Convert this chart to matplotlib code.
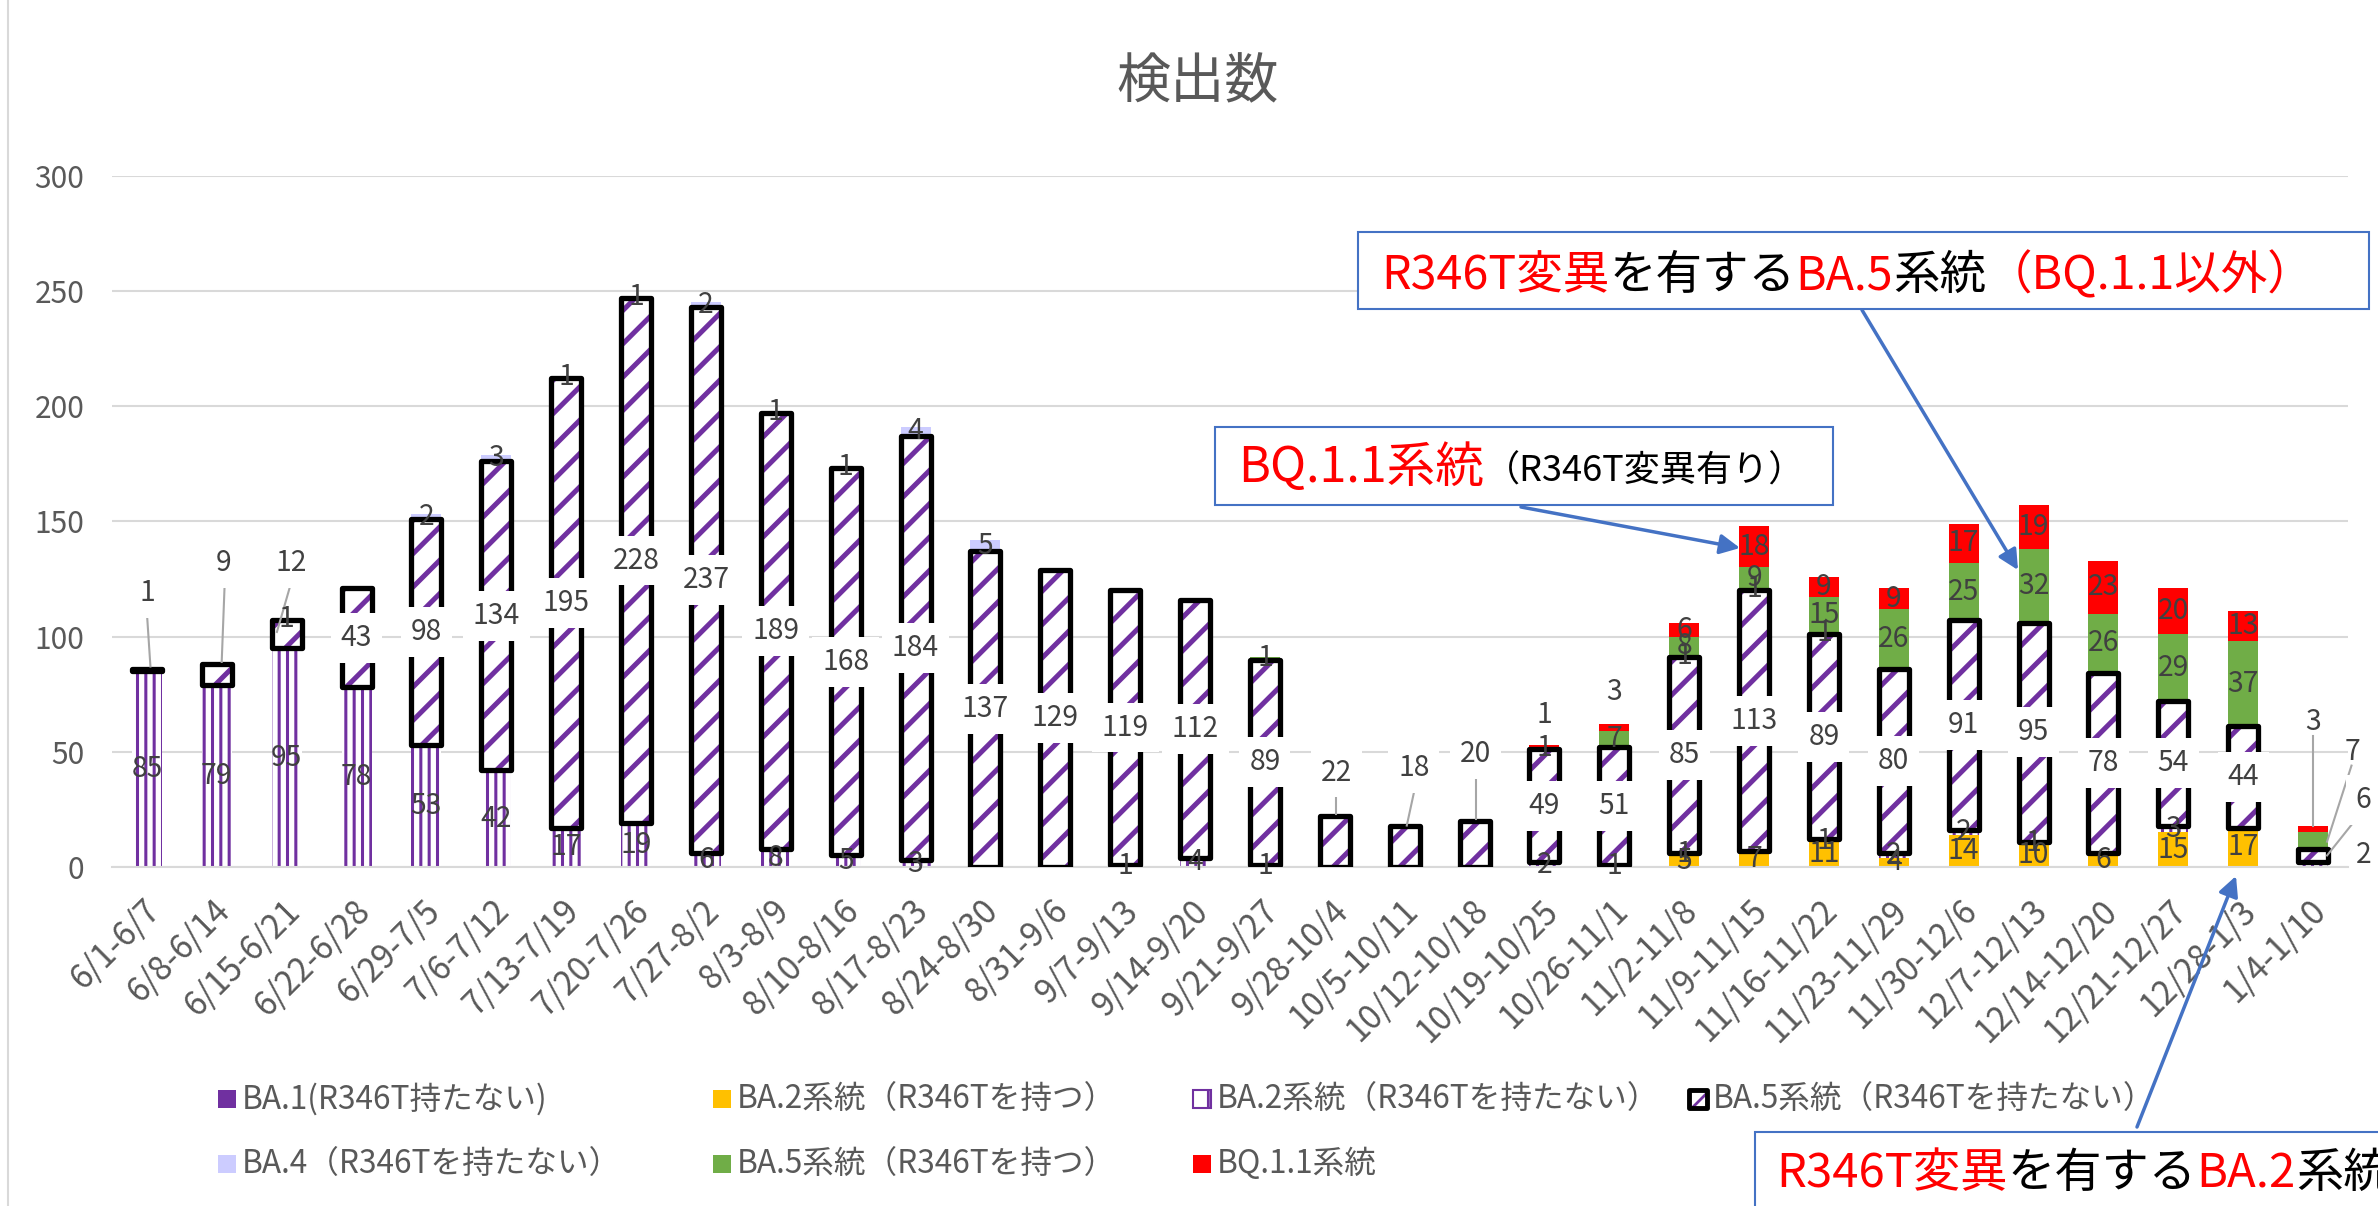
import matplotlib
matplotlib.use('Agg')
import matplotlib.pyplot as plt
import matplotlib.transforms as mtransforms
from matplotlib.patches import Rectangle, FancyArrowPatch
from matplotlib.lines import Line2D
import numpy as np

W, H, DPI = 2378, 1206, 100

plt.rcParams['font.family'] = ['Noto Sans CJK JP', 'DejaVu Sans']
plt.rcParams['hatch.linewidth'] = 2.2

weeks = ['6/1-6/7', '6/8-6/14', '6/15-6/21', '6/22-6/28', '6/29-7/5', '7/6-7/12',
         '7/13-7/19', '7/20-7/26', '7/27-8/2', '8/3-8/9', '8/10-8/16', '8/17-8/23',
         '8/24-8/30', '8/31-9/6', '9/7-9/13', '9/14-9/20', '9/21-9/27', '9/28-10/4',
         '10/5-10/11', '10/12-10/18', '10/19-10/25', '10/26-11/1', '11/2-11/8',
         '11/9-11/15', '11/16-11/22', '11/23-11/29', '11/30-12/6', '12/7-12/13',
         '12/14-12/20', '12/21-12/27', '12/28-1/3', '1/4-1/10']

# counts per week, in stacking order (bottom -> top)
ba1     = [0, 0, 0, 0, 0, 0, 0, 0, 0, 0, 0, 0, 0, 0, 0, 0,
           0, 0, 0, 0, 0, 0, 0, 0, 0, 0, 0, 0, 0, 0, 0, 0]
ba2_r   = [0, 0, 0, 0, 0, 0, 0, 0, 0, 0, 0, 0, 0, 0, 0, 0,
           0, 0, 0, 0, 0, 0, 5, 7, 11, 4, 14, 10, 6, 15, 17, 0]
ba2_nor = [85, 79, 95, 78, 53, 42, 17, 19, 6, 8, 5, 3, 0, 0, 1, 4,
           1, 0, 0, 0, 2, 1, 1, 0, 1, 2, 2, 1, 0, 3, 0, 2]
ba5_nor = [1, 9, 12, 43, 98, 134, 195, 228, 237, 189, 168, 184, 137, 129, 119, 112,
           89, 22, 18, 20, 49, 51, 85, 113, 89, 80, 91, 95, 78, 54, 44, 6]
ba4     = [0, 0, 1, 0, 2, 3, 1, 1, 2, 1, 0, 4, 5, 0, 0, 0,
           0, 0, 0, 0, 0, 0, 1, 1, 1, 0, 0, 0, 0, 0, 0, 0]
ba5_r   = [0, 0, 0, 0, 0, 0, 0, 0, 0, 0, 1, 0, 0, 0, 0, 0,
           1, 0, 0, 0, 1, 7, 8, 9, 15, 26, 25, 32, 26, 29, 37, 7]
bq11    = [0, 0, 0, 0, 0, 0, 0, 0, 0, 0, 0, 0, 0, 0, 0, 0,
           0, 0, 0, 0, 1, 3, 6, 18, 9, 9, 17, 19, 23, 20, 13, 3]

legend_labels = ['BA.1(R346T持たない)', 'BA.2系統（R346Tを持つ）', 'BA.2系統（R346Tを持たない）',
                 'BA.5系統（R346Tを持たない）', 'BA.4（R346Tを持たない）', 'BA.5系統（R346Tを持つ）',
                 'BQ.1.1系統']

PURPLE = '#7030a0'
YELLOW = '#ffc000'
LAVENDER = '#ccccff'
GREEN = '#70ad47'
RED = '#ff0000'
BLUE = '#4472c4'
GRID = '#d9d9d9'
TXT = '#595959'
LBL = '#404040'


def fx(px):
    return px / W


def fy(py):
    return 1 - py / H


fig = plt.figure(figsize=(W / DPI, H / DPI), dpi=DPI)
renderer = fig.canvas.get_renderer()


def fit(s, target_px, ref=20):
    # font size that makes string s about target_px wide
    t = fig.text(0, 0, s, fontsize=ref)
    w = t.get_window_extent(renderer).width
    t.remove()
    return ref * target_px / w


XT_FS = fit('10/12-10/18', 185)
YT_FS = fit('300', 50)
LB_FS = fit('228', 47)
LG_FS = fit(legend_labels[0], 305)

ax = fig.add_axes([fx(112), fy(867), (2348 - 112) / W, (867 - 175.7) / H])

x = np.arange(len(weeks))
bw = 0.43
series = [np.array(s) for s in (ba1, ba2_r, ba2_nor, ba5_nor, ba4, ba5_r, bq11)]
bottoms = [np.zeros(len(weeks))]
for s in series[:-1]:
    bottoms.append(bottoms[-1] + s)

ax.bar(x, series[0], bw, bottom=bottoms[0], color=PURPLE, lw=0, zorder=2)
ax.bar(x, series[1], bw, bottom=bottoms[1], color=YELLOW, lw=0, zorder=2)
ax.bar(x, series[2], bw, bottom=bottoms[2], facecolor='white', edgecolor=PURPLE,
       hatch='||', lw=0, zorder=2)
plt.rcParams['hatch.linewidth'] = 3.6
ax.bar(x, series[3], bw, bottom=bottoms[3], facecolor='white', edgecolor=PURPLE,
       hatch='/', lw=0, zorder=2)
ax.bar(x, series[4], bw, bottom=bottoms[4], color=LAVENDER, lw=0, zorder=2)
ax.bar(x, series[5], bw, bottom=bottoms[5], color=GREEN, lw=0, zorder=2)
ax.bar(x, series[6], bw, bottom=bottoms[6], color=RED, lw=0, zorder=2)
# thick black outline of BA.5 (no R346T)
ax.bar(x, series[3], bw, bottom=bottoms[3], fill=False, edgecolor='black',
       lw=3.8, joinstyle='round', zorder=3)

ax.set_xlim(-0.5, len(weeks) - 0.5)
ax.set_ylim(0, 300)
ax.set_yticks(range(0, 301, 50))
ax.yaxis.grid(True, color=GRID, lw=1.5)
ax.set_axisbelow(True)
for s in ('top', 'right', 'left'):
    ax.spines[s].set_visible(False)
ax.spines['bottom'].set_color(GRID)
ax.spines['bottom'].set_linewidth(1.5)
ax.tick_params(axis='both', length=0, colors=TXT)
ax.tick_params(axis='y', labelsize=YT_FS, pad=20)
ax.tick_params(axis='x', labelsize=XT_FS, labelrotation=45, pad=28)
ax.set_xticks(x, weeks)
shift = mtransforms.ScaledTranslation(8 / DPI, 0, fig.dpi_scale_trans)
for lab in ax.get_xticklabels():
    lab.set_ha('right')
    lab.set_va('center')
    lab.set_rotation_mode('anchor')
    lab.set_transform(lab.get_transform() + shift)

# moved labels: week -> (x offset, label y, leader line or None)
moved = {
    3: {0: (0.0, 119, (0.0, 110, 0.05, 87)),
        1: (0.1, 132, (0.11, 121, 0.07, 89)),
        2: (0.06, 132, (0.06, 123, -0.14, 102)),
        17: (0.02, 41, (0.02, 31, 0.02, 23)),
        18: (0.13, 43, (0.13, 32, 0.03, 18)),
        19: (0.02, 49, (0.02, 38, 0.02, 21)),
        31: (0.72, 29, (0.7, 24, 0.2, 5))},
    2: {31: (0.72, 5, None)},
    5: {31: (0.56, 50, (0.55, 44, 0.2, 11))},
    6: {20: (0.0, 66, None), 21: (0.0, 76, None), 31: (0.0, 63, (0.0, 57, 0.0, 18))},
}

for k, s in enumerate(series):
    for i, v in enumerate(s):
        if v == 0:
            continue
        box = dict(boxstyle='square,pad=0.35', fc='white', ec='none') if k == 3 else None
        if i in moved.get(k, {}):
            dx, ly, leader = moved[k][i]
            ax.text(i + dx, ly, str(v), ha='center', va='center', fontsize=LB_FS,
                    color=LBL, bbox=box, zorder=6, clip_on=False)
            if leader:
                ax.plot([i + leader[0], i + leader[2]], [leader[1], leader[3]],
                        color='#a6a6a6', lw=1.5, zorder=5, clip_on=False)
        else:
            ax.text(i, bottoms[k][i] + v / 2, str(v), ha='center', va='center',
                    fontsize=LB_FS, color=LBL, bbox=box, zorder=6)

# title
fig.text(fx(1198), fy(83), '検出数', ha='center', va='center', fontsize=39, color=TXT)

# chart-area left border
fig.add_artist(Line2D([fx(8), fx(8)], [0, 1], color=GRID, lw=1.5, transform=fig.transFigure))

# legend (Excel style, row-wise)
leg_pos = [(218, 1099), (713, 1099), (1193, 1099), (1689, 1099),
           (218, 1164), (713, 1164), (1193, 1164)]
sq = 18
plt.rcParams['hatch.linewidth'] = 2.0
for k, (lx, ly) in enumerate(leg_pos):
    r = Rectangle((fx(lx), fy(ly + sq / 2)), sq / W, sq / H, transform=fig.transFigure)
    if k == 2:
        r.set(facecolor='white', edgecolor=PURPLE, lw=1.5, hatch='|')
    elif k == 3:
        r.set(facecolor='white', edgecolor=PURPLE, lw=0, hatch='/')
        fig.add_artist(r)
        r = Rectangle((fx(lx), fy(ly + sq / 2)), sq / W, sq / H, transform=fig.transFigure,
                      fill=False, edgecolor='black', lw=3.5, joinstyle='round')
    else:
        r.set(facecolor=[PURPLE, YELLOW, None, None, LAVENDER, GREEN, RED][k], lw=0)
    fig.add_artist(r)
    fig.text(fx(lx + sq + 6), fy(ly), legend_labels[k], ha='left', va='center',
             fontsize=LG_FS, color=TXT)


def colored_text(px, py, parts):
    cur = px
    for s, c, size in parts:
        t = fig.text(fx(cur), fy(py), s, color=c, fontsize=size, ha='left',
                     va='baseline', zorder=11)
        cur += t.get_window_extent(renderer).width


def callout(x0, y0, x1, y1):
    fig.add_artist(Rectangle((fx(x0), fy(y1)), (x1 - x0) / W, (y1 - y0) / H,
                             transform=fig.transFigure, facecolor='white',
                             edgecolor=BLUE, lw=1.5, zorder=10))


def arrow(p0, p1):
    fig.add_artist(FancyArrowPatch((fx(p0[0]), fy(p0[1])), (fx(p1[0]), fy(p1[1])),
                                   transform=fig.transFigure, arrowstyle='-|>',
                                   mutation_scale=30, color=BLUE, lw=2.5, zorder=12,
                                   shrinkA=0, shrinkB=0))


callout(1358, 232, 2369, 309)
colored_text(1381, 289, [('R346T変異', RED, 33.5), ('を有する', 'black', 33.5), ('BA.5', RED, 33.5),
                         ('系統', 'black', 33.5), ('（BQ.1.1以外）', RED, 33.5)])
arrow((1862, 310), (2018, 570))

callout(1215, 427, 1833, 505)
colored_text(1238, 482, [('BQ.1.1系統', RED, 35), ('（R346T変異有り）', 'black', 26)])
arrow((1521, 507), (1740, 548))

callout(1755, 1132, 2500, 1300)
colored_text(1776, 1187, [('R346T変異', RED, 34), ('を有する', 'black', 34), ('BA.2', RED, 34),
                          ('系統', 'black', 34)])
arrow((2137, 1127), (2236, 876))

fig.savefig('out.png', dpi=DPI)
